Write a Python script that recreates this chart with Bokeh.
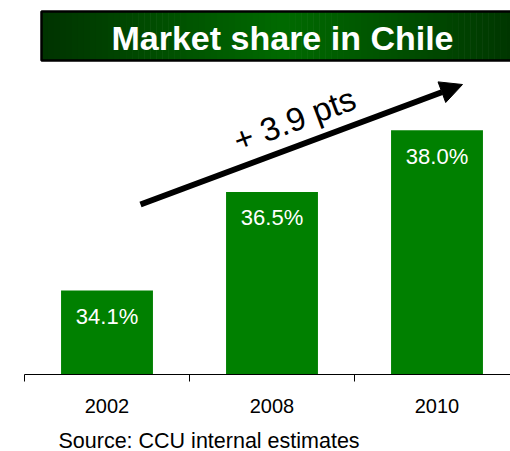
import math
from bokeh.plotting import figure
from bokeh.models import (Range1d, FixedTicker, LinearAxis, Arrow, NormalHead,
                          Label, Title, ColumnDataSource)
from bokeh.core.properties import value
from bokeh.embed import file_html
from bokeh.resources import INLINE

# ---- data ----
years = ["2002", "2008", "2010"]
share = [34.1, 36.5, 38.0]
share_labels = ["34.1%", "36.5%", "38.0%"]
title_text = "Market share in Chile"
arrow_text = "+ 3.9 pts"
source_text = "Source: CCU internal estimates"

FONT = "Liberation Sans"

# ---- scales (pixel geometry of the frame) ----
FRAME_W, FRAME_H = 486, 366
CAT_PX = 165.0                     # pixels per category
Y0 = 32.05                         # value at the baseline
K = 41.03                          # pixels per percentage point
Y1 = Y0 + FRAME_H / K
LEFT_PX, BASE_PX = 24, 374         # page position of frame left / baseline


def dx(px):
    return (px - LEFT_PX) / CAT_PX


def dy(py):
    return Y0 + (BASE_PX - py) / K


p = figure(frame_width=FRAME_W, frame_height=FRAME_H,
           x_range=Range1d(0, FRAME_W / CAT_PX), y_range=Range1d(Y0, Y1),
           output_backend="svg", toolbar_location=None,
           x_axis_location=None, y_axis_location=None,
           min_border_left=24, min_border_right=0, min_border_top=8,
           min_border_bottom=0)
p.outline_line_color = None
p.xgrid.visible = False
p.ygrid.visible = False
p.background_fill_color = "white"
p.border_fill_color = "white"

centers = [i + 0.5 for i in range(len(years))]
src = ColumnDataSource(dict(x=centers, top=share, lab=share_labels))

# bars
p.vbar(x="x", top="top", bottom=Y0, width=0.557, source=src,
       fill_color="#008000", line_color=None)
p.text(x="x", y="top", text="lab", source=src, text_color="white",
       text_font=value(FONT), text_font_size="22px",
       text_align="center", text_baseline="middle", y_offset=26)

# x axis: ticks between categories, labels at centers
xaxis = LinearAxis(ticker=FixedTicker(ticks=centers,
                                      minor_ticks=[0, 1, 2, 3]),
                   major_label_overrides={c: y for c, y in zip(centers, years)})
xaxis.major_tick_out = 0
xaxis.major_tick_in = 0
xaxis.minor_tick_out = 7
xaxis.minor_tick_in = 0
xaxis.minor_tick_line_color = "black"
xaxis.axis_line_color = "black"
xaxis.axis_line_width = 1
xaxis.major_label_text_font = FONT
xaxis.major_label_text_font_size = "20px"
xaxis.major_label_text_color = "black"
xaxis.major_label_standoff = 17
xaxis.axis_label = " "
xaxis.axis_label_text_font_size = "1.5px"
xaxis.axis_label_standoff = 0
p.add_layout(xaxis, "below")

p.add_layout(Title(text=source_text, align="left", offset=34,
                   text_font=FONT, text_font_size="21.5px",
                   text_font_style="normal", text_color="black",
                   standoff=12), "below")

# title banner with horizontal gradient
b_left, b_right, b_top, b_bot = 41, 524, 11, 60
mid = (b_left + b_right) / 2
n = 80
edge = (0x00, 0x33, 0x00)
cen = (0x00, 0x6a, 0x00)
lefts, rights, cols = [], [], []
w = (b_right - b_left) / n
for i in range(n):
    l = b_left + i * w
    c = l + w / 2
    t = min(1.0, abs(c - mid) / ((b_right - b_left) / 2))
    rgb = tuple(int(round(cen[j] + (edge[j] - cen[j]) * t)) for j in range(3))
    lefts.append(dx(l))
    rights.append(dx(l + w + 0.6))
    cols.append("#%02x%02x%02x" % rgb)
p.quad(left=lefts, right=rights, top=dy(b_top), bottom=dy(b_bot),
       fill_color=cols, line_color=None)
p.quad(left=dx(b_left), right=dx(b_right + 20), top=dy(b_top), bottom=dy(b_bot),
       fill_color=None, line_color="black", line_width=2.5)
p.add_layout(Label(x=dx(282), y=dy(37), text=title_text, text_color="white",
                   text_font=FONT, text_font_size="34px", text_font_style="bold",
                   text_align="center", text_baseline="middle"))

# trend arrow
p.add_layout(Arrow(end=NormalHead(size=22, fill_color="black",
                                  line_color="black"),
                   x_start=dx(140), y_start=dy(204), x_end=dx(462), y_end=dy(84),
                   line_width=6, line_color="black"))
p.add_layout(Label(x=dx(294), y=dy(119), text=arrow_text, text_color="black",
                   text_font=FONT, text_font_size="33px",
                   angle=math.radians(20.5), text_align="center",
                   text_baseline="middle"))

open("out.html", "w").write(file_html(p, INLINE))
